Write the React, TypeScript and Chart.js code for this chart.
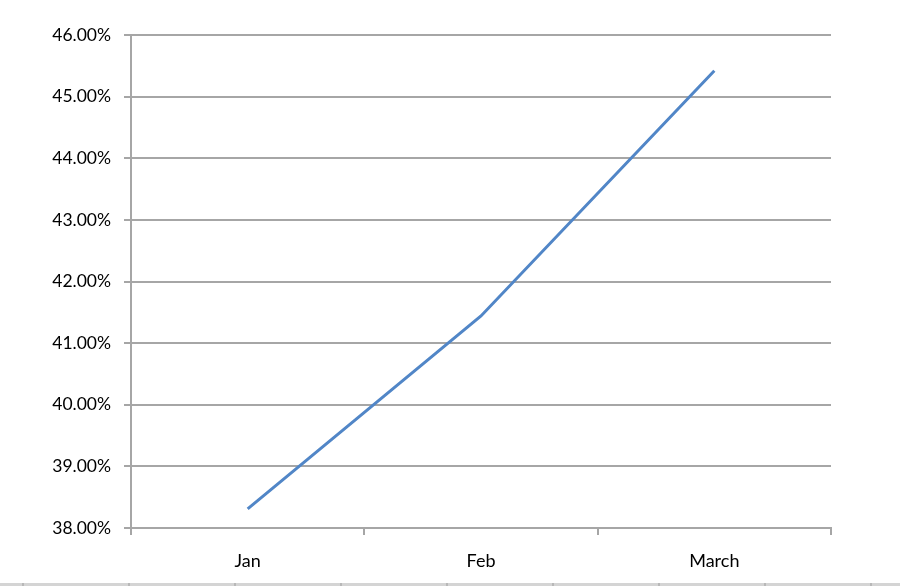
import React, { useEffect, useRef } from "react";
import { Chart, registerables } from "chart.js";

Chart.register(...registerables);

const categories = ["Jan", "Feb", "March"];
const seriesValues = [38.31, 41.44, 45.42];
const yMin = 38;
const yMax = 46;
const yStep = 1;

export default function App() {
  const canvasRef = useRef<HTMLCanvasElement | null>(null);

  useEffect(() => {
    if (!canvasRef.current) return;
    const family = "Lato, 'Open Sans', sans-serif";
    const chart = new Chart(canvasRef.current, {
      type: "line",
      data: {
        labels: categories,
        datasets: [
          {
            data: seriesValues,
            borderColor: "#5186c7",
            borderWidth: 3,
            pointRadius: 0,
            tension: 0,
            fill: false,
          },
        ],
      },
      options: {
        animation: false,
        responsive: true,
        maintainAspectRatio: false,
        layout: { padding: { left: 0, right: 69, top: 35, bottom: 0 } },
        plugins: { legend: { display: false }, tooltip: { enabled: false } },
        scales: {
          x: {
            offset: true,
            grid: {
              offset: true,
              drawOnChartArea: false,
              drawTicks: true,
              tickLength: 7,
              color: "#a6a6a6",
              lineWidth: 2,
            },
            border: { display: true, color: "#a6a6a6", width: 2 },
            ticks: { font: { family, size: 18 }, color: "#000000", padding: 15 },
            afterFit: (scale: any) => {
              scale.height = 58;
            },
          },
          y: {
            min: yMin,
            max: yMax,
            grid: {
              color: "#a6a6a6",
              lineWidth: 2,
              drawTicks: true,
              tickLength: 7,
            },
            border: { display: true, color: "#a6a6a6", width: 2 },
            ticks: {
              stepSize: yStep,
              font: { family, size: 17.5 },
              color: "#000000",
              padding: 13,
              callback: (v: any) => Number(v).toFixed(2) + "%",
            },
            afterFit: (scale: any) => {
              scale.width = 131;
            },
          },
        },
      },
    });
    return () => chart.destroy();
  }, []);

  return (
    <div
      style={{
        position: "absolute",
        left: 0,
        top: 0,
        width: 900,
        height: 586,
        background: "#ffffff",
      }}
    >
      <canvas ref={canvasRef} />
      <div
        style={{
          position: "absolute",
          left: 0,
          top: 583,
          width: 900,
          height: 3,
          background:
            "repeating-linear-gradient(to right, #d4d4d4 0px, #d4d4d4 22px, #b8b8b8 22px, #b8b8b8 24px, #d4d4d4 24px, #d4d4d4 106px)",
        }}
      />
    </div>
  );
}
